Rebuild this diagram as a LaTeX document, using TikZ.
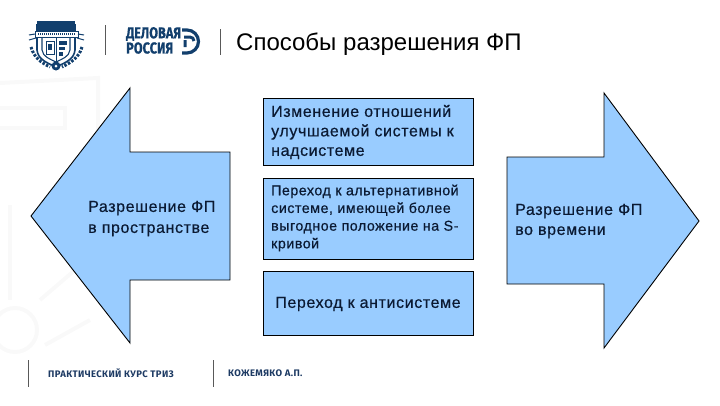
\documentclass[tikz,border=0pt]{standalone}
\usepackage{fontspec}
\setmainfont{Liberation Sans}
\newfontfamily\condfont[FakeBold=0.6]{Fira Sans}
\newfontfamily\spacedfont[LetterSpace=3.8,FakeBold=0.5]{Liberation Sans}
\newfontfamily\footfont[LetterSpace=4]{Fira Sans}
\definecolor{fillblue}{HTML}{99CCFF}
\definecolor{navy}{HTML}{1D3A63}
\definecolor{logoblue}{HTML}{123F6D}
\definecolor{ink}{HTML}{0B1A33}
\definecolor{wm}{HTML}{F9F9F9}
\tikzset{
  shapeline/.style={draw=black,fill=fillblue,line width=0.9pt,line join=miter},
  labeltext/.style={text=ink,align=left,anchor=west,inner sep=0pt},
  rulegray/.style={draw=black!65,line width=0.9pt},
  crest/.style={draw=logoblue,line width=1.1pt},
  wmline/.style={draw=wm,line width=4pt},
  logotext/.style={anchor=west,inner sep=0pt,text=logoblue,font=\condfont\bfseries\fontsize{13}{12}\selectfont,xscale=0.98,yscale=1.22},
  foottext/.style={anchor=west,inner sep=0pt,text=navy,font=\footfont\bfseries\fontsize{9.5}{11}\selectfont}
}
\begin{document}
\begin{tikzpicture}[x=1pt,y=-1pt]
\useasboundingbox (0,0) rectangle (720,405);
% faint watermark
\draw[wmline] (0,83) -- (98,78) -- (98,150);
\draw[wmline] (0,108) -- (65,108) -- (65,128) -- (0,128);
\draw[wmline] (10,205) -- (10,300);
\draw[wmline] (15,330) circle[radius=22];
\draw[wmline] (40,300) -- (75,270);
\draw[wmline] (45,345) -- (90,320);
% crest logo
\fill[logoblue] (37,21) rectangle (75,33);
\draw[crest,line width=1.6pt] (37,24) -- (37,50) .. controls (38,60) and (48,63) .. (56,67) .. controls (64,63) and (74,60) .. (75,50) -- (75,24);
\draw[crest] (42,36) -- (42,50) .. controls (43,57) and (50,59) .. (56,62) .. controls (62,59) and (69,57) .. (70,50) -- (70,36);
\fill[white,draw=logoblue,line width=0.7pt] (35,31) rectangle (78,37);
\draw[logoblue,line width=2.5pt,dash pattern=on 1pt off 1pt] (38,34) -- (75,34);
\draw[logoblue,line width=1pt] (29,35) -- (35,34) (84,35) -- (78,34) (29,40) -- (36,38) (84,40) -- (77,38);
\draw[logoblue,line width=0.9pt] (46,41) rectangle (54,54);
\fill[logoblue] (48,44) rectangle (52,50);
\fill[logoblue] (59,41) rectangle (67,45);
\fill[logoblue] (59,47) rectangle (65,50);
\fill[logoblue] (59,52) rectangle (63,56);
\draw[logoblue,line width=0.9pt] (56,38) -- (56,62);
\fill[logoblue] (56,66) circle[radius=4.5];
\fill[white] (56,66) circle[radius=1.5];
\draw[logoblue,line width=3pt,dash pattern=on 2.5pt off 1.5pt] (31,47) .. controls (34,58) and (42,63) .. (50,67);
\draw[logoblue,line width=3pt,dash pattern=on 2.5pt off 1.5pt] (82,47) .. controls (79,58) and (70,63) .. (62,67);
% logo rules
\draw[rulegray] (105.5,25) -- (105.5,55);
\draw[rulegray] (220,29) -- (220,55);
% Delovaya Rossiya
\node (dr1) [logotext] at (126,34) {ДЕЛОВАЯ};
\node (dr2) [logotext] at (126,48) {РОССИЯ};
\draw[logoblue,line width=3.2pt] (182,30) -- (187,30) arc[start angle=-90,end angle=90,radius=11.5] -- (182,53);
\draw[logoblue,line width=3pt] (185,40) -- (185,47) (184,37) -- (190,37) arc[start angle=-90,end angle=0,radius=4];
% title
\node (title) [anchor=west,inner sep=0pt,text=black,font=\fontsize{24}{28}\selectfont] at (236,44) {Способы разрешения ФП};
% left arrow
\draw[shapeline] (31,216) -- (130,88) -- (130,152) -- (230,152) -- (230,280) -- (130,280) -- (130,343) -- cycle;
\node (lefttext) [labeltext,font=\spacedfont\fontsize{16}{21}\selectfont] at (88,218.5) {Разрешение ФП\\в пространстве};
% right arrow
\draw[shapeline] (699,221) -- (604,93) -- (604,157) -- (507,157) -- (507,284) -- (604,284) -- (604,348) -- cycle;
\node (righttext) [labeltext,font=\spacedfont\fontsize{16}{20}\selectfont] at (515,221) {Разрешение ФП\\во времени};
% boxes
\node (box1) [shapeline,minimum width=210pt,minimum height=67pt,inner sep=0pt,anchor=north west] at (263,98) {};
\node (box2) [shapeline,minimum width=210pt,minimum height=81pt,inner sep=0pt,anchor=north west] at (263,178) {};
\node (box3) [shapeline,minimum width=210pt,minimum height=64pt,inner sep=0pt,anchor=north west] at (263,271) {};
\node (t1) [labeltext,font=\spacedfont\fontsize{16}{19.5}\selectfont] at (271,132) {Изменение отношений\\улучшаемой системы к\\надсистеме};
\node (t2) [labeltext,font=\spacedfont\fontsize{14.2}{17.7}\selectfont] at (271,218) {Переход к альтернативной\\системе, имеющей более\\выгодное положение на S-\\кривой};
\node (t3) [labeltext,anchor=center,font=\spacedfont\fontsize{16}{20}\selectfont] at (368,304) {Переход к антисистеме};
% footer
\draw[rulegray] (28.5,360) -- (28.5,387);
\draw[rulegray] (213.5,360) -- (213.5,387);
\node (foot1) [foottext] at (48,373) {ПРАКТИЧЕСКИЙ КУРС ТРИЗ};
\node (foot2) [foottext] at (228,373) {КОЖЕМЯКО А.П.};
\end{tikzpicture}
\end{document}
